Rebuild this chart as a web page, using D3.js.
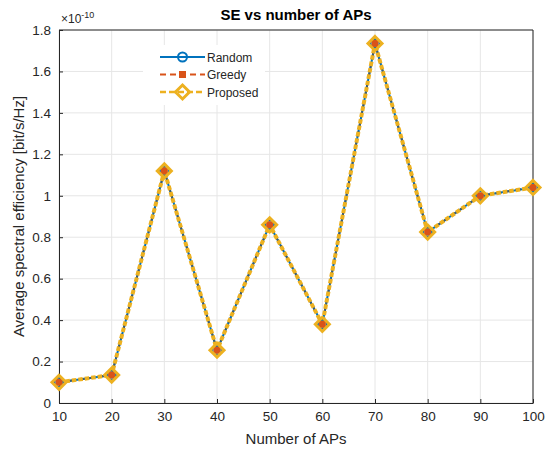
<!DOCTYPE html>
<html>
<head>
<meta charset="utf-8">
<script src="https://cdn.jsdelivr.net/npm/d3@7"></script>
<style>
  body { margin: 0; background: #fff; }
  text { font-family: "Liberation Sans", Arial, sans-serif; }
</style>
</head>
<body>
<div id="chart"></div>
<script>
// number of access points
var numAPs = [10, 20, 30, 40, 50, 60, 70, 80, 90, 100];
// average SE, in units of 1e-10 bit/s/Hz (all three schemes overlap)
var seRandom   = [0.10, 0.135, 1.12, 0.255, 0.86, 0.38, 1.735, 0.825, 1.0, 1.04];
var seGreedy   = [0.10, 0.135, 1.12, 0.255, 0.86, 0.38, 1.735, 0.825, 1.0, 1.04];
var seProposed = [0.10, 0.135, 1.12, 0.255, 0.86, 0.38, 1.735, 0.825, 1.0, 1.04];
var xTicks = [10, 20, 30, 40, 50, 60, 70, 80, 90, 100];
var yTicks = [0, 0.2, 0.4, 0.6, 0.8, 1, 1.2, 1.4, 1.6, 1.8];
var seriesNames = ["Random", "Greedy", "Proposed"];

var margin = {top: 30, right: 12, bottom: 47, left: 59},
    width = 545 - margin.left - margin.right,
    height = 450 - margin.top - margin.bottom;

var svgRoot = d3.select("#chart").append("svg")
    .attr("width", 545)
    .attr("height", 450);
var svg = svgRoot.append("g")
    .attr("transform", "translate(" + margin.left + "," + margin.top + ")");

var x = d3.scaleLinear().domain([10, 100]).range([0, width]);
var y = d3.scaleLinear().domain([0, 1.8]).range([height, 0]);

// grid
svg.append("g").selectAll("line").data(xTicks).enter().append("line")
    .attr("x1", d => x(d)).attr("x2", d => x(d))
    .attr("y1", 0).attr("y2", height)
    .attr("stroke", "#e6e6e6").attr("stroke-width", 1);
svg.append("g").selectAll("line").data(yTicks).enter().append("line")
    .attr("x1", 0).attr("x2", width)
    .attr("y1", d => y(d)).attr("y2", d => y(d))
    .attr("stroke", "#e6e6e6").attr("stroke-width", 1);

// axes (ticks inward, matlab style)
var xAxis = svg.append("g")
    .attr("transform", "translate(0," + height + ")")
    .call(d3.axisBottom(x).tickValues(xTicks).tickSize(-4).tickPadding(8).tickSizeOuter(0));
var yAxis = svg.append("g")
    .call(d3.axisLeft(y).tickValues(yTicks).tickSize(-4).tickPadding(8).tickSizeOuter(0)
      .tickFormat(d3.format("~g")));
[xAxis, yAxis].forEach(function(a) {
    a.select(".domain").attr("stroke", "#262626");
    a.selectAll(".tick line").attr("stroke", "#262626");
    a.selectAll(".tick text").attr("fill", "#262626").style("font-size", "13.5px");
});
// box
svg.append("line").attr("x1", 0).attr("x2", width).attr("y1", 0).attr("y2", 0).attr("stroke", "#262626");
svg.append("line").attr("x1", width).attr("x2", width).attr("y1", 0).attr("y2", height).attr("stroke", "#262626");

// exponent
var expo = svg.append("text").attr("x", 2).attr("y", -7)
    .attr("fill", "#262626").style("font-size", "12px");
expo.append("tspan").text("\u00d710");
expo.append("tspan").attr("dy", -5).style("font-size", "9px").text("-10");

// lines
var line = function(vals) {
    return d3.line().x((d, i) => x(numAPs[i])).y(d => y(d))(vals);
};
svg.append("path").attr("d", line(seRandom)).attr("fill", "none")
    .attr("stroke", "#0072BD").attr("stroke-width", 2);
svg.append("path").attr("d", line(seGreedy)).attr("fill", "none")
    .attr("stroke", "#3d5a6e").attr("stroke-width", 2).attr("stroke-dasharray", "6,4");
svg.append("path").attr("d", line(seProposed)).attr("fill", "none")
    .attr("stroke", "#EDB120").attr("stroke-width", 4).attr("stroke-dasharray", "4.5,2");

// markers
function drawMarkers(g, vals, kind, px, py) {
    vals.forEach(function(v, i) {
        var cx = px !== undefined ? px : x(numAPs[i]);
        var cy = py !== undefined ? py : y(v);
        if (kind === "circle") {
            g.append("circle").attr("cx", cx).attr("cy", cy).attr("r", 4.5)
                .attr("fill", "none").attr("stroke", "#0072BD").attr("stroke-width", 2);
        } else if (kind === "square") {
            g.append("rect").attr("x", cx - 3.5).attr("y", cy - 3.5).attr("width", 7).attr("height", 7)
                .attr("fill", "#D95319");
        } else {
            g.append("path").attr("d", "M" + cx + "," + (cy - 7) + "L" + (cx + 7) + "," + cy +
                "L" + cx + "," + (cy + 7) + "L" + (cx - 7) + "," + cy + "Z")
                .attr("fill", "none").attr("stroke", "#EDB120").attr("stroke-width", 3);
        }
    });
}
var mk = svg.append("g");
drawMarkers(mk, seRandom, "circle");
drawMarkers(mk, seGreedy, "square");
drawMarkers(mk, seProposed, "diamond");

// legend
var lg = svg.append("g").attr("transform", "translate(" + (143 - margin.left) + "," + (45 - margin.top) + ")");
lg.append("rect").attr("width", 122).attr("height", 60).attr("fill", "#fff");
var styles = [
    {c: "#0072BD", w: 2, dash: null, kind: "circle"},
    {c: "#D95319", w: 2, dash: "6,4", kind: "square"},
    {c: "#EDB120", w: 2.5, dash: "6,3", kind: "diamond"}
];
seriesNames.forEach(function(name, i) {
    var yy = 12 + i * 17.5;
    lg.append("line").attr("x1", 17).attr("x2", 62).attr("y1", yy).attr("y2", yy)
        .attr("stroke", styles[i].c).attr("stroke-width", styles[i].w)
        .attr("stroke-dasharray", styles[i].dash);
    drawMarkers(lg, [0], styles[i].kind, 39.5, yy);
    lg.append("text").attr("x", 64).attr("y", yy + 4.5).text(name)
        .attr("fill", "#262626").style("font-size", "12px");
});

// title and labels
svgRoot.append("text").attr("x", margin.left + width / 2).attr("y", 20)
    .attr("text-anchor", "middle").style("font-size", "15px").style("font-weight", "bold")
    .attr("fill", "#000").text("SE vs number of APs");
svgRoot.append("text").attr("x", margin.left + width / 2).attr("y", 444)
    .attr("text-anchor", "middle").style("font-size", "15px")
    .attr("fill", "#262626").text("Number of APs");
svgRoot.append("text").attr("transform", "translate(24," + (margin.top + height / 2) + ") rotate(-90)")
    .attr("text-anchor", "middle").style("font-size", "15px")
    .attr("fill", "#262626").text("Average spectral efficiency [bit/s/Hz]");
</script>
</body>
</html>
